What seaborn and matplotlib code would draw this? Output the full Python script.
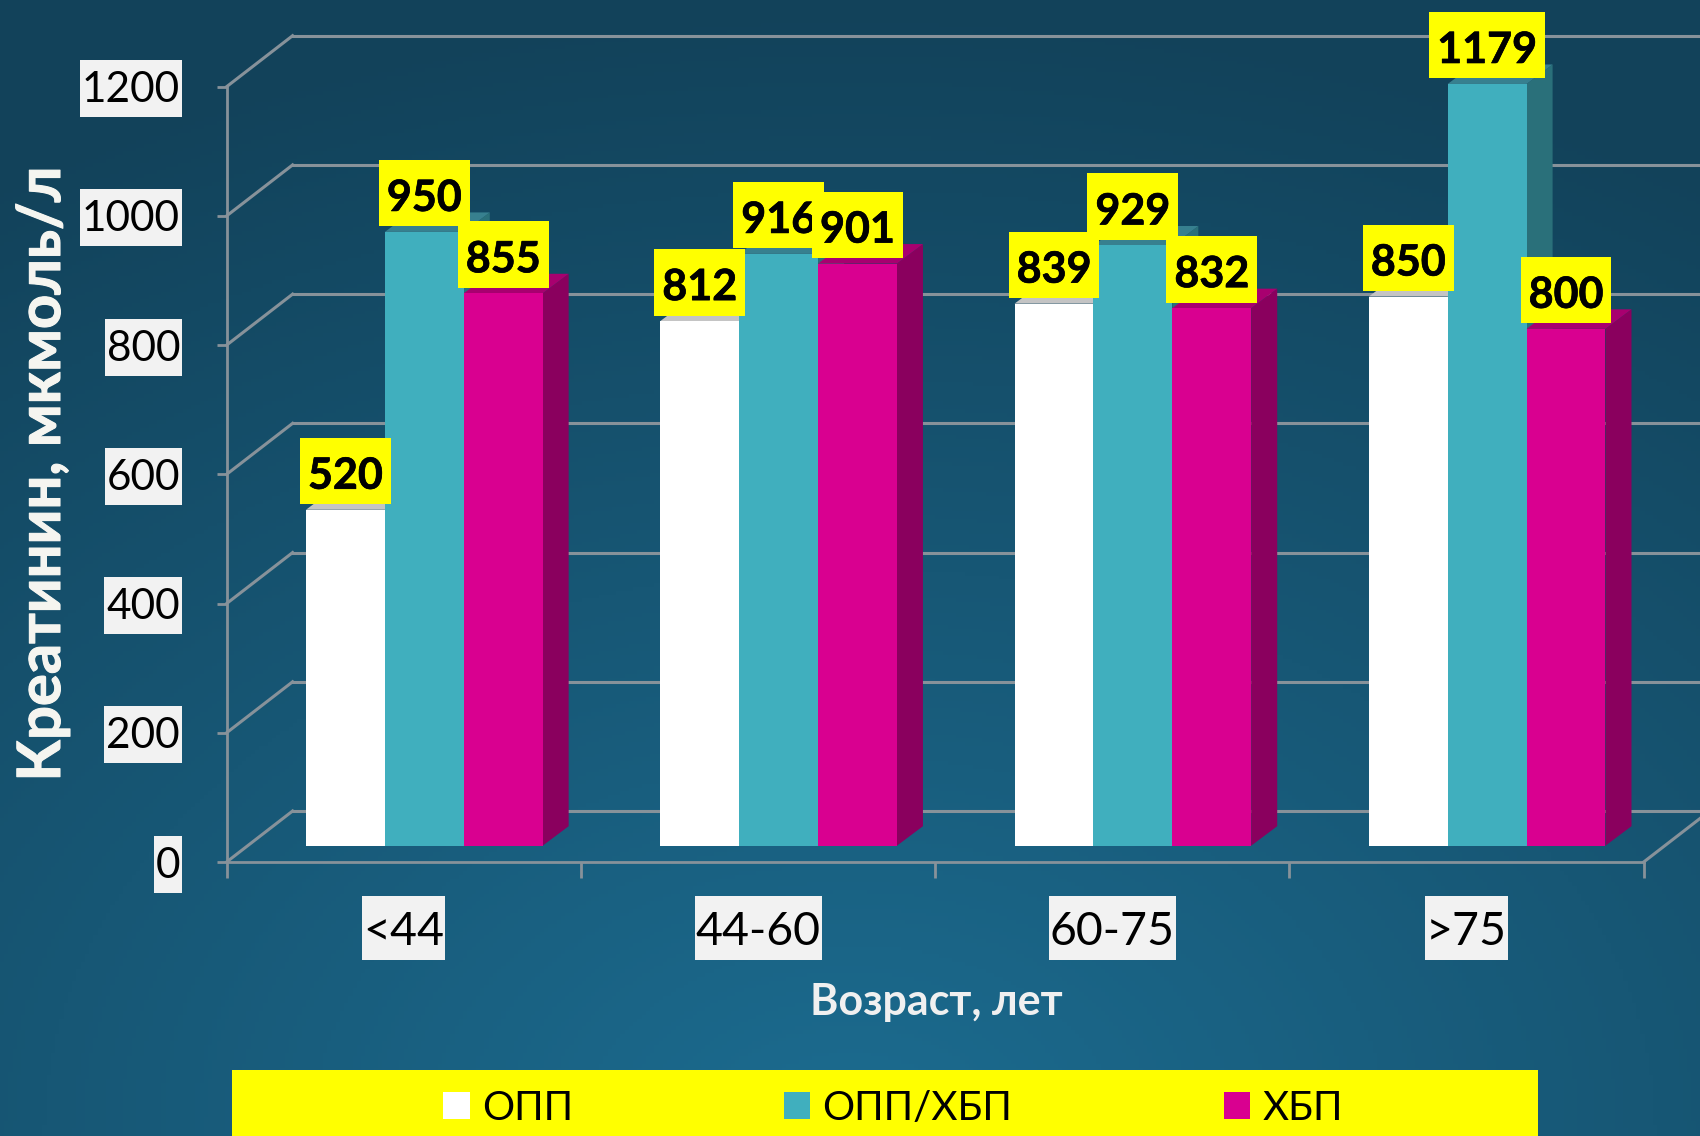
import numpy as np
import pandas as pd
import seaborn as sns
import matplotlib.pyplot as plt
import matplotlib.patheffects as pe
from matplotlib.patches import Rectangle, Polygon
from matplotlib.path import Path

age_groups = ['<44', '44-60', '60-75', '>75']
series_names = ['ОПП', 'ОПП/ХБП', 'ХБП']
opp_values = [520, 812, 839, 850]
opp_hbp_values = [950, 916, 929, 1179]
hbp_values = [855, 901, 832, 800]
y_ticks = [0, 200, 400, 600, 800, 1000, 1200]

front_colors = ['#FFFFFF', '#40AFBE', '#D90090']
top_colors = ['#C4C4C4', '#37808F', '#A8006F']
side_colors = ['#C4C4C4', '#2A707A', '#8A005E']
grid_color = '#87929A'

W, H = 1700, 1136
plt.rcParams['font.family'] = ['Lato', 'Noto Sans', 'DejaVu Sans']


def px_axes(fig, left, top, right, bottom):
    #axes placed by pixel edges, y measured from the top of the picture
    return fig.add_axes([left / W, 1 - bottom / H, (right - left) / W, (bottom - top) / H])


def style_limits(ax):
    ax.set_xlim(-0.5, 3.5)
    ax.set_ylim(0, 1200)
    ax.patch.set_alpha(0)


def label_box(padx, top, bottom):
    #text box with its own padding per side, all in pixels
    def box(x0, y0, width, height, mutation_size):
        xa, xb = x0 - padx, x0 + width + padx
        ya, yb = y0 - bottom, y0 + height + top
        return Path([(xa, ya), (xb, ya), (xb, yb), (xa, yb), (xa, ya)], closed=True)
    return box


fig = plt.figure(figsize=(W / 100, H / 100), dpi=100)

#background glow, lighter at the bottom centre
bg = fig.add_axes([0, 0, 1, 1])
yy, xx = np.mgrid[0:1:300j, 0:1:400j]
dist = np.clip(np.sqrt(((xx - 0.5) / 0.95) ** 2 + (yy / 1.0) ** 2), 0, 1)
c_in = np.array([0x1C, 0x6C, 0x90]) / 255
c_out = np.array([0x12, 0x42, 0x5A]) / 255
bg.imshow(c_in + (c_out - c_in) * dist[..., None], origin='lower', extent=[0, 1, 0, 1], aspect='auto')
bg.axis('off')

#3d layout of the old chart: front frame, back wall, and the bars between them
x0, x1, y_top, y_bot = 226.6, 1643.7, 86.7, 862
back_dx, back_dy = 66, 51
bar_dx, bar_dy = 20.6, 16.3
depth_x, depth_y = 26, 19.5

back = px_axes(fig, x0 + back_dx, y_top - back_dy, x1 + back_dx, y_bot - back_dy)
style_limits(back)
back.set_yticks(y_ticks)
back.set_xticks([])
back.tick_params(left=False, labelleft=False)
back.grid(axis='y', color=grid_color, lw=2.2)
for line in back.get_ygridlines():
    line.set_clip_on(False)
sns.despine(ax=back, left=True, bottom=True)

front = px_axes(fig, x0, y_top, x1, y_bot)
style_limits(front)
sns.despine(ax=front)
front.spines[['left', 'bottom']].set_color(grid_color)
front.spines[['left', 'bottom']].set_linewidth(2)
front.set_yticks(y_ticks)
front.set_xticks(np.arange(-0.5, 4))
front.set_xticklabels([])
front.set_xticks(range(4), labels=age_groups, minor=True)
front.tick_params(axis='y', length=7.5, width=2, color=grid_color, pad=26, labelsize=30.5, labelcolor='black')
front.tick_params(axis='x', which='major', length=11.5, width=2, color=grid_color)
front.tick_params(axis='x', which='minor', length=0, pad=35, labelsize=33.5, labelcolor='black')
for lab in front.get_yticklabels():
    lab.set_bbox(dict(boxstyle=label_box(2, 11, 8), facecolor='#F2F2F2', edgecolor='none'))
for lab in front.get_xticklabels(minor=True):
    lab.set_bbox(dict(boxstyle=label_box(1, 15, 7), facecolor='#F2F2F2', edgecolor='none'))

#floor and wall joins running back from the front frame
ddx = back_dx / ((x1 - x0) / 4)
ddy = back_dy / ((y_bot - y_top) / 1200)
for v in y_ticks:
    front.plot([-0.5, -0.5 + ddx], [v, v + ddy], color=grid_color, lw=2.2, clip_on=False)
front.plot([3.5, 3.5 + ddx], [0, ddy], color=grid_color, lw=2.2, clip_on=False)

bars = px_axes(fig, x0 + bar_dx, y_top - bar_dy, x1 + bar_dx, y_bot - bar_dy)
data = pd.DataFrame({
    'age': age_groups * 3,
    'series': np.repeat(series_names, 4),
    'value': opp_values + opp_hbp_values + hbp_values,
})
sns.barplot(data=data, x='age', y='value', hue='series', order=age_groups, hue_order=series_names,
            palette=front_colors, saturation=1, width=0.668, gap=0, legend=False, ax=bars)
style_limits(bars)
bars.axis('off')

#side and top faces worked out from each drawn bar
bx = depth_x / ((x1 - x0) / 4)
by = depth_y / ((y_bot - y_top) / 1200)
for s, container in enumerate(bars.containers):
    for patch in container:
        patch.set_linewidth(0)
        patch.set_zorder(3 + s)
        xa, xb, h = patch.get_x(), patch.get_x() + patch.get_width(), patch.get_height()
        side = Polygon([(xb, 0), (xb + bx, by), (xb + bx, h + by), (xb, h)], fc=side_colors[s], ec='none',
                       zorder=2.5 + s, clip_on=False)
        top = Polygon([(xa, h), (xa + bx, h + by), (xb + bx, h + by), (xb, h)], fc=top_colors[s], ec='none',
                      zorder=2.5 + s, clip_on=False)
        bars.add_patch(side)
        bars.add_patch(top)
        bars.annotate(f'{h:.0f}', (patch.get_x() + patch.get_width() / 2, h), xytext=(0, 34),
                      textcoords='offset pixels', ha='center', va='center', fontsize=31, fontweight='bold',
                      color='black', zorder=10, annotation_clip=False,
                      path_effects=[pe.withStroke(linewidth=0.5, foreground='black')],
                      bbox=dict(boxstyle=label_box(8, 18, 8.5), facecolor='#FFFF00', edgecolor='none'))

fig.text(43 / W, 1 - 474 / H, 'Креатинин, мкмоль/л', rotation=90, ha='center', va='center',
         fontsize=43, fontweight='bold', color='#F5F5F0',
         path_effects=[pe.withStroke(linewidth=0.8, foreground='#F5F5F0')])
fig.text(936 / W, 1 - 1002 / H, 'Возраст, лет', ha='center', va='center',
         fontsize=31, fontweight='bold', color='#F0F0F0')

fig.add_artist(Rectangle((232 / W, 0), 1306 / W, 66 / H, transform=fig.transFigure, fc='#FFFF00', ec='none'))
handles = [Rectangle((0, 0), 1, 1, fc=c, ec='none') for c in front_colors]
fig.legend(handles, series_names, loc='center', bbox_to_anchor=(893 / W, 28 / H), ncols=3, frameon=False,
           fontsize=29, labelcolor='black', columnspacing=5.25, handlelength=0.65, handleheight=0.65,
           handletextpad=0.3, borderpad=0, borderaxespad=0)

fig.savefig('out.png', dpi=100)
